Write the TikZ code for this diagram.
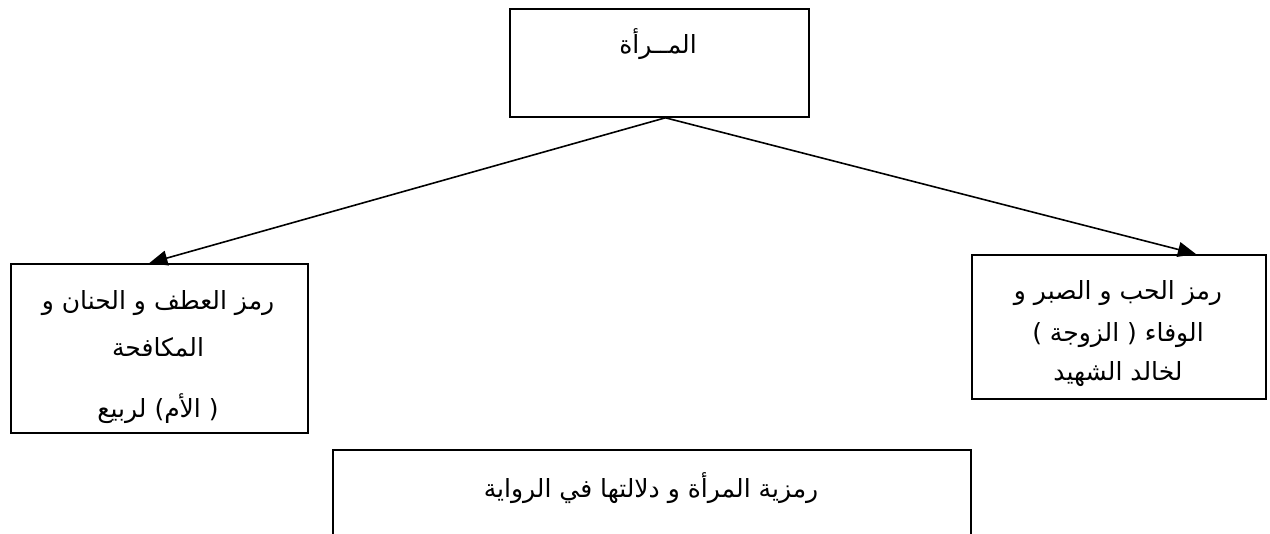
\documentclass[tikz,border=0pt]{standalone}
\usepackage{fontspec}
\usetikzlibrary{arrows.meta}
\TeXXeTstate=1
\newfontfamily\arabicfont[Script=Arabic]{DejaVu Sans}
\begin{document}
\begin{tikzpicture}[x=1pt,y=-1pt,
  box/.style={draw,line width=1.8pt,inner sep=0pt,anchor=north west},
  txt/.style={font=\arabicfont\fontsize{25}{28}\selectfont,inner sep=0pt},
  arr/.style={line width=1.6pt,-{Triangle[length=18pt,width=15pt]}}]
\useasboundingbox (0,0) rectangle (1270,534);
% boxes
\node[box,minimum width=299pt,minimum height=108pt] (top) at (509,8) {};
\node[box,minimum width=297pt,minimum height=169pt] (left) at (10,263) {};
\node[box,minimum width=294pt,minimum height=144pt] (right) at (971,254) {};
\node[box,minimum width=638pt,minimum height=120pt] (bottom) at (332,449) {};
% texts
\node[txt] (t0) at (658,44) {\beginR المــرأة\endR};
\node[txt] (l1) at (158,303) {\beginR رمز العطف و الحنان و\endR};
\node[txt] (l2) at (158,347) {\beginR المكافحة\endR};
\node[txt] (l3) at (158,409) {\beginR ( الأم) لربيع\endR};
\node[txt] (r1) at (1118,293) {\beginR رمز الحب و الصبر و\endR};
\node[txt] (r2) at (1118,335) {\beginR الوفاء ( الزوجة )\endR};
\node[txt] (r3) at (1118,374) {\beginR لخالد الشهيد\endR};
\node[txt] (b1) at (651,488) {\beginR رمزية المرأة و دلالتها في الرواية\endR};
% connectors
\draw[arr] ([xshift=6pt]top.south) -- ([xshift=-10pt]left.north);
\draw[arr] ([xshift=6pt]top.south) -- ([xshift=77pt]right.north);
\end{tikzpicture}
\end{document}
